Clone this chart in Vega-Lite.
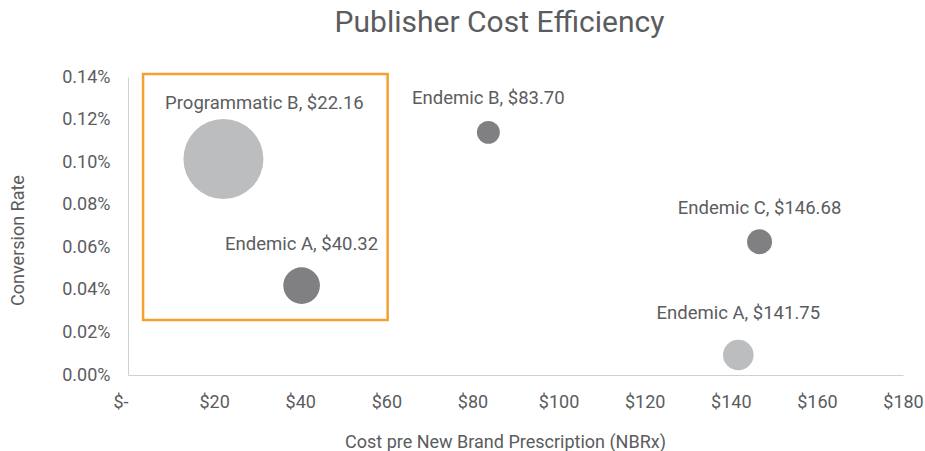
{
  "$schema": "https://vega.github.io/schema/vega-lite/v6.json",
  "autosize": "none",
  "width": 775,
  "height": 298,
  "padding": {"left": 128, "top": 77, "right": 22, "bottom": 76},
  "background": "white",
  "config": {
    "font": "Roboto",
    "view": {"stroke": null},
    "axis": {"grid": false, "ticks": false, "domainColor": "#D0D0D0", "labelColor": "#5B5C60", "titleColor": "#5B5C60", "labelFontSize": 18, "titleFontSize": 18, "titleFontWeight": "normal", "labelFont": "Roboto", "titleFont": "Roboto"}
  },
  "title": {"text": "Publisher Cost Efficiency", "fontSize": 30, "fontWeight": "normal", "color": "#5B5C60", "font": "Roboto", "anchor": "middle", "frame": "group", "dx": -16, "offset": 30},
  "datasets": {
    "pubs": [
      {"name": "Programmatic B", "label": "Programmatic B, $22.16", "cost": 22.16, "rate": 0.001015, "volume": 100, "group": "light", "labelPos": "big"},
      {"name": "Endemic A", "label": "Endemic A, $40.32", "cost": 40.32, "rate": 0.00042, "volume": 21, "group": "dark", "labelPos": "mid"},
      {"name": "Endemic B", "label": "Endemic B, $83.70", "cost": 83.70, "rate": 0.001140, "volume": 8.2, "group": "dark", "labelPos": "small"},
      {"name": "Endemic C", "label": "Endemic C, $146.68", "cost": 146.68, "rate": 0.000626, "volume": 9.8, "group": "dark", "labelPos": "small"},
      {"name": "Endemic A", "label": "Endemic A, $141.75", "cost": 141.75, "rate": 0.000094, "volume": 14.6, "group": "light", "labelPos": "mid"}
    ],
    "box": [
      {"x1": 3.5, "x2": 60.3, "y1": 0.000258, "y2": 0.001414}
    ]
  },
  "layer": [
    {
      "data": {"name": "box"},
      "mark": {"type": "rect", "fill": null, "stroke": "#F5A030", "strokeWidth": 2.5, "clip": false},
      "encoding": {
        "x": {"field": "x1", "type": "quantitative", "scale": {"domain": [0, 180]},
          "axis": {"values": [0, 20, 40, 60, 80, 100, 120, 140, 160, 180], "labelExpr": "datum.value == 0 ? '$-' : '$' + datum.value", "labelAlign": {"condition": {"test": "datum.value == 0", "value": "right"}, "value": "center"}, "labelPadding": 18, "title": "Cost pre New Brand Prescription (NBRx)", "titleX": 377, "titleY": 67, "titleBaseline": "middle", "titleAnchor": null}},
        "x2": {"field": "x2"},
        "y": {"field": "y1", "type": "quantitative", "scale": {"domain": [0, 0.0014]},
          "axis": {"values": [0, 0.0002, 0.0004, 0.0006, 0.0008, 0.001, 0.0012, 0.0014], "format": ".2%", "labelPadding": 18, "title": "Conversion Rate", "titleX": -110, "titleY": 163, "titleAngle": -90, "titleAlign": "center", "titleBaseline": "middle"}},
        "y2": {"field": "y2"}
      }
    },
    {
      "data": {"name": "pubs"},
      "mark": {"type": "circle", "opacity": 1, "clip": false},
      "encoding": {
        "x": {"field": "cost", "type": "quantitative"},
        "y": {"field": "rate", "type": "quantitative"},
        "size": {"field": "volume", "type": "quantitative", "scale": {"domain": [0, 100], "range": [0, 6400]}, "legend": null},
        "color": {"field": "group", "type": "nominal", "scale": {"domain": ["light", "dark"], "range": ["#BCBDBF", "#808083"]}, "legend": null}
      }
    },
    {
      "data": {"name": "pubs"},
      "transform": [{"filter": "datum.labelPos == 'big'"}],
      "mark": {"type": "text", "fontSize": 18.5, "color": "#5B5C60", "dy": -56, "dx": 41, "baseline": "middle"},
      "encoding": {
        "x": {"field": "cost", "type": "quantitative"},
        "y": {"field": "rate", "type": "quantitative"},
        "text": {"field": "label"}
      }
    },
    {
      "data": {"name": "pubs"},
      "transform": [{"filter": "datum.labelPos == 'mid'"}],
      "mark": {"type": "text", "fontSize": 18.5, "color": "#5B5C60", "dy": -42, "baseline": "middle"},
      "encoding": {
        "x": {"field": "cost", "type": "quantitative"},
        "y": {"field": "rate", "type": "quantitative"},
        "text": {"field": "label"}
      }
    },
    {
      "data": {"name": "pubs"},
      "transform": [{"filter": "datum.labelPos == 'small'"}],
      "mark": {"type": "text", "fontSize": 18.5, "color": "#5B5C60", "dy": -34, "baseline": "middle"},
      "encoding": {
        "x": {"field": "cost", "type": "quantitative"},
        "y": {"field": "rate", "type": "quantitative"},
        "text": {"field": "label"}
      }
    }
  ]
}
